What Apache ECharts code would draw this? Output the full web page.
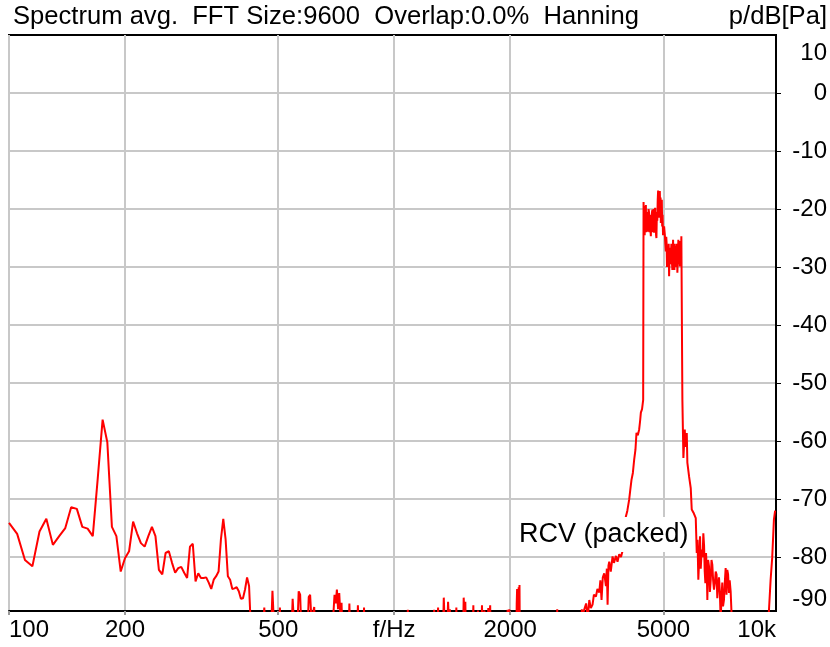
<!DOCTYPE html>
<html>
<head>
<meta charset="utf-8">
<script src="https://cdn.jsdelivr.net/npm/echarts@6/dist/echarts.min.js"></script>
<style>
  html, body { margin: 0; padding: 0; background: #fff; }
  #chart { width: 830px; height: 647px; }
</style>
</head>
<body>
<div id="chart"></div>
<script>
// spectrum below the carrier band, frequency in Hz
const freqs = [
  100, 105, 110, 115, 120, 125, 130, 135, 140, 145, 150, 155, 160, 165, 170, 175, 180, 185, 190, 195,
  200, 205, 210, 215, 220, 225, 230, 235, 240, 245, 250, 255, 260, 265, 270, 275, 280, 285, 290, 295,
  300, 305, 310, 315, 320, 325, 330, 335, 340, 345, 350, 355, 360, 365, 370, 375, 380, 385, 390, 395,
  400, 405, 410, 415, 420, 425, 430,
  440, 455, 460, 465, 478, 483, 490, 500, 505, 510, 540, 545, 550, 560, 565, 570, 575, 595, 600, 605,
  610, 620, 625, 690, 695, 700, 705, 710, 715, 720, 725, 730, 735, 760, 765, 770, 800, 805, 810, 830,
  835, 840,
  1080, 1085, 1090, 1265, 1270, 1275, 1295, 1300, 1305, 1340, 1345, 1350, 1375, 1380, 1385, 1395, 1400,
  1445, 1450, 1455, 1510, 1515, 1520, 1530, 1535, 1600, 1605, 1610, 1645, 1650, 1655, 1685, 1690, 1695,
  1715, 1720, 1750, 1755, 1765, 1775, 1780, 1965, 1970, 1975, 1985, 1990, 1995,
  2075, 2080, 2085, 2090, 2095, 2100, 2105, 2110, 2115, 2120, 2645, 2650, 2655, 3050, 3070, 3080,
  3100, 3150, 3180, 3210, 3240, 3273, 3300, 3340, 3370, 3407, 3430, 3454, 3480, 3510, 3530, 3546,
  3565, 3581, 3600, 3617, 3650, 3689, 3720, 3764, 3800, 3839, 3880, 3914, 3950, 3995, 4030, 4074,
  4100, 4131, 4165, 4198, 4230, 4256, 4290, 4325, 4350, 4369, 4400, 4430
]

// level in dB re 1 Pa
const levels = [
  -74.1, -76.0, -80.5, -81.6, -75.6, -73.4, -77.9, -76.4, -75.0, -71.4, -71.7, -74.8, -75.1, -76.4, -66.4, -56.3, -60.2, -74.8, -76.4, -82.5,
  -80.2, -79.0, -73.9, -75.9, -77.6, -78.2, -76.4, -74.8, -76.4, -82.2, -83.0, -79.3, -79.0, -81.0, -82.7, -81.9, -81.7, -82.7, -83.6, -78.2,
  -77.7, -84.2, -82.8, -83.6, -83.6, -83.5, -84.4, -85.5, -83.9, -83.3, -82.5, -76.9, -73.4, -76.9, -83.3, -83.9, -85.5, -85.4, -85.2, -85.9,
  -87.2, -87.1, -85.6, -83.5, -85.0, -93.0, -97.0,
  -97, -95, -88.7, -96, -95, -85.8, -95, -96, -88.7, -97, -95, -87.2, -92, -93, -85.9, -86.5, -94, -94, -86.9, -86.5,
  -91, -88.6, -96, -95, -90, -86.5, -88, -85.6, -89, -86.2, -90, -87.9, -95, -95, -88.0, -95, -95, -88.3, -95, -95,
  -88.7, -96,
  -95, -89.1, -95, -95, -89.1, -95, -92, -88.7, -92, -92, -87.0, -90, -91, -87.7, -90, -89.0, -94,
  -94, -88.7, -94, -93, -87.0, -89, -87.7, -93, -93, -88.3, -93, -93, -89.2, -93, -93, -88.3, -92,
  -89.2, -92, -92, -88.8, -91, -88.3, -93, -95, -89.1, -95, -95, -89.0, -95,
  -95, -88, -85.5, -92, -86.5, -90, -85.2, -88, -84.8, -95, -95, -89.0, -95, -95, -89.0, -95,
  -89.5, -88.0, -90.5, -87.4, -88.8, -88.2, -86.5, -86.8, -85.5, -86.1, -84.0, -87.4, -83.5, -82.8, -84.0, -85.0,
  -82.0, -88.2, -81.5, -80.8, -82.5, -79.9, -81.0, -79.8, -80.8, -79.5, -80.0, -79.0, -76.0, -73.0, -72.0, -70.1,
  -68.5, -66.7, -65.5, -63.2, -61.5, -58.6, -59.0, -58.0, -56.5, -55.1, -54.5, -52.9
]

// carrier band top
const topFreqs = [
  4440, 4450, 4460, 4470, 4480, 4490, 4502, 4510, 4520, 4530,
  4545, 4553, 4560, 4575, 4591, 4600, 4610, 4625, 4638, 4648,
  4660, 4670, 4683, 4693, 4705, 4718, 4730, 4745, 4758, 4765,
  4775, 4785, 4795, 4808, 4820, 4832, 4844, 4855, 4870, 4880,
  4893, 4905, 4915, 4923, 4935, 4952, 4963, 4975, 4988, 5000,
  5020, 5042, 5057, 5072, 5085, 5095, 5108, 5120, 5135, 5150,
  5160, 5172, 5188, 5203, 5215, 5230, 5243, 5256, 5275, 5297,
  5308, 5320, 5330, 5339, 5350, 5360, 5372, 5383, 5397, 5410,
  5422, 5435, 5450, 5467, 5478, 5490, 5502, 5514, 5528, 5540,
  5553, 5566, 5580
]
const topLevels = [
  -18.8, -23.5, -21.5, -24.5, -19.5, -22.5, -19.3, -24.0, -21.0, -23.0,
  -23.9, -20.5, -22.5, -20.0, -20.7, -24.0, -21.5, -23.5, -24.7, -21.0,
  -23.0, -20.5, -20.1, -24.0, -22.5, -20.0, -24.1, -20.5, -19.8, -23.5,
  -22.0, -24.5, -25.0, -20.5, -22.0, -18.5, -16.8, -21.0, -18.5, -21.5,
  -16.9, -20.5, -18.0, -22.4, -19.5, -18.4, -23.0, -21.0, -24.5, -24.7,
  -23.0, -24.4, -26.0, -27.3, -24.8, -25.8, -30.0, -26.4, -29.0, -28.5,
  -26.0, -31.6, -27.5, -26.7, -29.5, -28.0, -26.0, -28.7, -30.5, -25.3,
  -29.0, -28.0, -26.5, -30.5, -26.0, -27.5, -30.0, -26.4, -29.0, -28.5,
  -26.0, -31.0, -28.0, -25.3, -29.5, -27.5, -25.5, -29.9, -27.0, -26.5,
  -29.0, -24.7, -24.9
]

// falling edge and the top of the range
const tailFreqs = [
  5590, 5600, 5634, 5681, 5700, 5749, 5769, 5828, 5887, 5922, 6000,
  6066, 6102, 6130, 6160, 6190, 6223, 6250, 6286, 6320, 6347, 6375, 6400, 6425, 6450, 6475, 6501,
  6530, 6567, 6600, 6634, 6665, 6697, 6730, 6765, 6800, 6834, 6870, 6900, 6935, 6970, 7005, 7041,
  7075, 7108, 7140, 7180, 7215, 7253, 7290, 7324, 7360, 7398, 7430, 7473, 7500, 7544, 7600,
  9300, 9390, 9490, 9580, 9680, 9750
]
const tailLevels = [
  -45.0, -52.9, -62.9, -58.0, -61.0, -58.6, -63.7, -66.1, -68.1, -71.8, -72.5,
  -73.3, -79.3, -77.0, -83.9, -80.5, -76.4, -82.0, -78.7, -80.0, -75.9, -78.0, -82.5, -84.5, -79.3, -81.5, -87.4,
  -80.5, -81.6, -86.0, -83.9, -80.5, -81.3, -84.0, -85.6, -84.5, -82.5, -83.0, -87.1, -85.0, -83.5, -86.0, -91.0,
  -87.0, -84.4, -88.5, -87.4, -84.5, -81.9, -86.5, -82.2, -83.0, -86.2, -84.0, -85.9, -88.5, -93.0, -96.0,
  -96.0, -89.5, -83.9, -80.1, -73.5, -72.0
]

const xTicks = [100, 200, 500, 1000, 2000, 5000]
const xLabelValues = [100, 200, 500, 1000, 2000, 5000, 9800]
const xLabelNames = ['100', '200', '500', 'f/Hz', '2000', '5000', '10k']
const yTicks = [-80, -70, -60, -50, -40, -30, -20, -10, 0]
const yLabelValues = [-89.3, -80, -70, -60, -50, -40, -30, -20, -10, 0, 10]
const yLabelNames = ['-90', '-80', '-70', '-60', '-50', '-40', '-30', '-20', '-10', '0', '10']

const font = "'Liberation Sans', Arial, sans-serif"
const chart = echarts.init(document.getElementById('chart'), null, { renderer: 'canvas' })

function nearest (values, names, v) {
  let best = 0
  for (let i = 1; i < values.length; i++) {
    if (Math.abs(values[i] - v) < Math.abs(values[best] - v)) best = i
  }
  return names[best]
}

const allFreqs = freqs.concat(topFreqs, tailFreqs)
const allLevels = levels.concat(topLevels, tailLevels)

const option = {
  animation: false,
  backgroundColor: '#fff',
  title: [
    {
      text: 'Spectrum avg.  FFT Size:9600  Overlap:0.0%  Hanning',
      left: 13,
      top: 4,
      padding: 0,
      textStyle: { fontFamily: font, fontSize: 25.6, fontWeight: 'normal', color: '#000' }
    },
    {
      text: 'p/dB[Pa]',
      right: 3,
      top: 4,
      padding: 0,
      textStyle: { fontFamily: font, fontSize: 25.6, fontWeight: 'normal', color: '#000' }
    }
  ],
  grid: {
    left: 9,
    right: 53,
    top: 35,
    bottom: 36,
    show: true,
    borderColor: '#000',
    borderWidth: 2
  },
  xAxis: {
    type: 'log',
    logBase: 10,
    min: 100,
    max: 9800,
    axisLine: { show: true, onZero: false, lineStyle: { color: '#000', width: 2 } },
    axisTick: { show: true, length: 4, customValues: xTicks, lineStyle: { color: '#999', width: 2 } },
    splitLine: { show: true, lineStyle: { color: '#c8c8c8', width: 2 } },
    axisLabel: {
      customValues: xLabelValues,
      margin: 7,
      fontFamily: font,
      fontSize: 24,
      color: '#000',
      alignMinLabel: 'left',
      alignMaxLabel: 'right',
      formatter: (v) => nearest(xLabelValues, xLabelNames, v)
    }
  },
  yAxis: {
    type: 'value',
    position: 'right',
    min: -89.3,
    max: 10,
    axisLine: { show: true, lineStyle: { color: '#000', width: 2 } },
    axisTick: { show: true, inside: false, length: 5, customValues: yTicks, lineStyle: { color: '#000', width: 1 } },
    splitLine: { show: true, lineStyle: { color: '#c8c8c8', width: 2 } },
    axisLabel: {
      customValues: yLabelValues,
      margin: 51,
      align: 'right',
      fontFamily: font,
      fontSize: 24,
      color: '#000',
      verticalAlignMinLabel: 'bottom',
      verticalAlignMaxLabel: 'top',
      formatter: (v) => {
        const s = nearest(yLabelValues, yLabelNames, v)
        return v > 5 ? '{t|' + s + '}' : s
      },
      rich: {
        t: { fontFamily: font, fontSize: 24, color: '#000', padding: [6, 0, 0, 0] }
      }
    }
  },
  graphic: [
    {
      type: 'text',
      left: 515,
      top: 517,
      z: 100,
      style: {
        text: 'RCV (packed)',
        font: "27px 'Liberation Sans', Arial, sans-serif",
        fill: '#000',
        backgroundColor: '#fff',
        padding: [4, 3, 4, 4]
      }
    }
  ],
  series: [
    {
      type: 'line',
      data: allFreqs.map((f, i) => [f, allLevels[i]]),
      showSymbol: false,
      symbol: 'none',
      clip: true,
      lineStyle: { color: '#ff0000', width: 2 },
      z: 3
    }
  ]
}

chart.setOption(option)
</script>
</body>
</html>
